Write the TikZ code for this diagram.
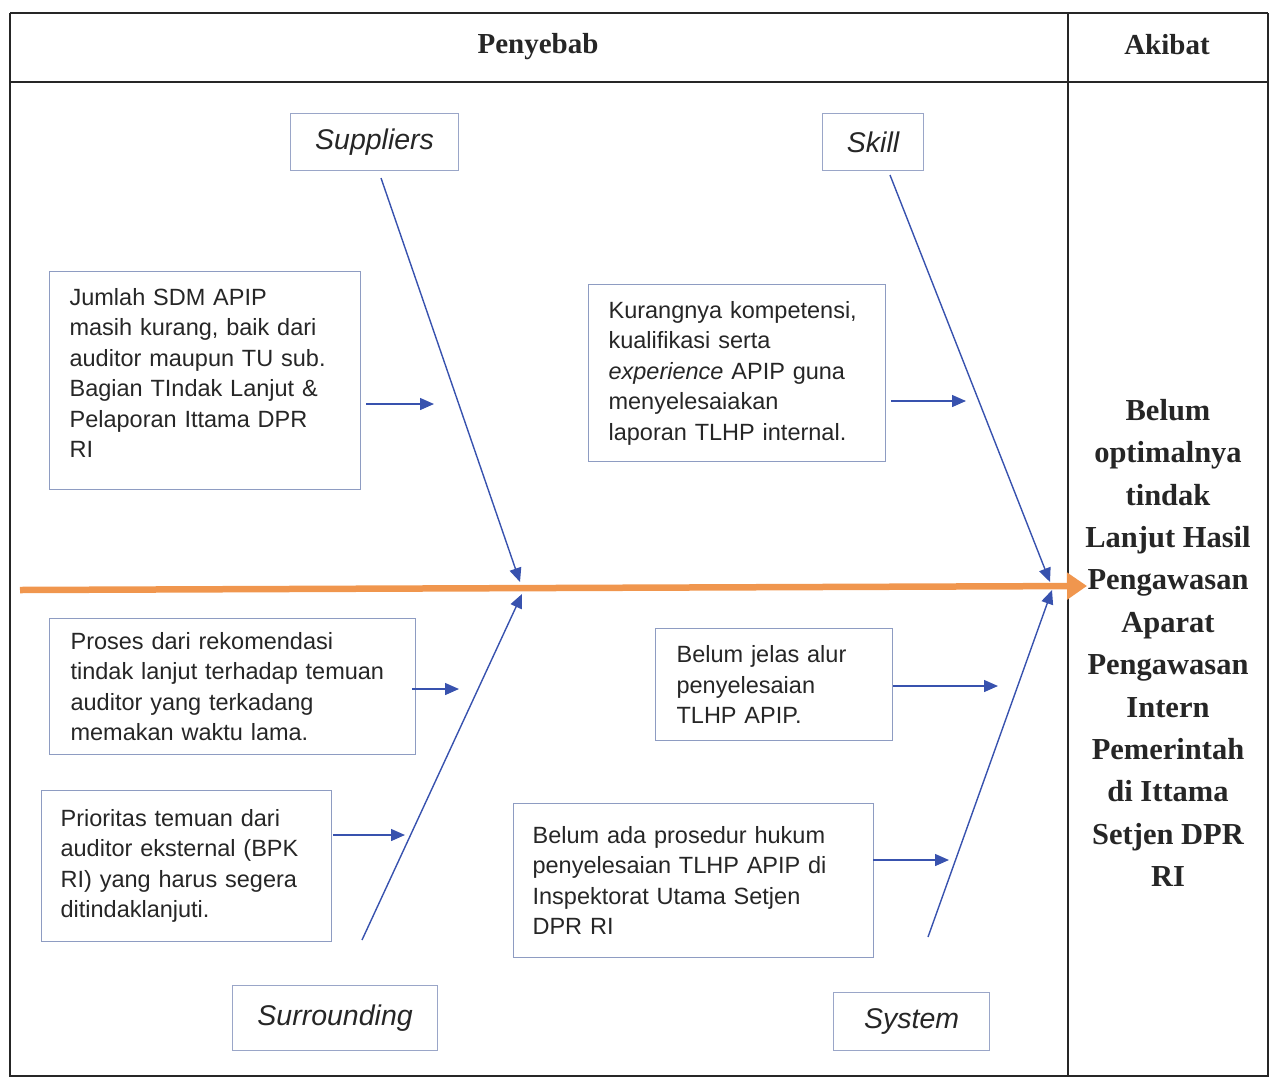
\documentclass[tikz,border=0pt]{standalone}
\usepackage{fontspec}
\setmainfont{Liberation Serif}
\newfontfamily\arialf{Liberation Sans}
\usetikzlibrary{arrows.meta}
\definecolor{boxc}{HTML}{8E9CC2}
\definecolor{labc}{HTML}{9AA6C8}
\definecolor{linec}{HTML}{3852AE}
\definecolor{orangec}{HTML}{F0964E}
\definecolor{txtc}{HTML}{262626}
\tikzset{
  causebox/.style={draw=boxc, line width=1.2pt, anchor=north west, align=left,
    inner xsep=20pt, inner ysep=0pt, text=txtc,
    font=\arialf\fontsize{23.5}{30.5}\selectfont},
  catbox/.style={draw=labc, line width=1.2pt, anchor=north west, inner sep=0pt,
    text=txtc, font=\arialf\itshape\fontsize{28.5}{34}\selectfont},
  spine/.style={draw=linec, line width=1.4pt, -{Triangle[length=14pt,width=12pt]}},
  small/.style={draw=linec, line width=1.4pt, -{Triangle[length=14pt,width=12pt]}},
  frame/.style={line width=1.8pt, draw=black!85},
  head/.style={font=\bfseries\fontsize{29}{34}\selectfont, text=txtc},
}
\begin{document}
\begin{tikzpicture}[x=1pt,y=-1pt]
\useasboundingbox (0,0) rectangle (1278,1077);
% frame
\draw[frame] (10,13) -- (1268,13);
\draw[frame] (10,82) -- (1268,82);
\draw[frame] (10,13) -- (10,1077);
\draw[frame] (1268,13) -- (1268,1077);
\draw[frame] (1068,13) -- (1068,1077);
\draw[frame] (10,1076) -- (1268,1076);
\node[head] (hp) at (538,47) {Penyebab};
\node[head] (ha) at (1167,45) {Akibat};
% effect
\node[font=\bfseries\fontsize{30.5}{42.4}\selectfont, align=center, text=txtc] (eff) at (1168,643)
 {Belum\\optimalnya\\tindak\\Lanjut Hasil\\Pengawasan\\Aparat\\Pengawasan\\Intern\\Pemerintah\\di Ittama\\Setjen DPR\\RI};
% category boxes
\node[catbox, minimum width=168pt, minimum height=57pt] (sup) at (290,113) {Suppliers};
\node[catbox, minimum width=101pt, minimum height=57pt] (ski) at (822,113) {Skill};
\node[catbox, minimum width=205pt, minimum height=65pt] (sur) at (232,985) {Surrounding};
\node[catbox, minimum width=156pt, minimum height=58pt] (sys) at (833,992) {System};
% cause boxes
\node[causebox, text width=271pt, minimum height=218pt] (b1) at (49,271)
 {Jumlah SDM APIP\\masih kurang, baik dari\\auditor maupun TU sub.\\Bagian TIndak Lanjut \&\\Pelaporan Ittama DPR\\RI\rule[-15pt]{0pt}{0pt}};
\node[causebox, text width=257pt, minimum height=177pt] (b2) at (588,284)
 {Kurangnya kompetensi,\\kualifikasi serta\\\textit{experience} APIP guna\\menyelesaiakan\\laporan TLHP internal.};
\node[causebox, inner xsep=21pt, text width=324pt, minimum height=136pt] (b3) at (49,618)
 {Proses dari rekomendasi\\tindak lanjut terhadap temuan\\auditor yang terkadang\\memakan waktu lama.};
\node[causebox, inner xsep=21pt, text width=195pt, minimum height=112pt] (b4) at (655,628)
 {Belum jelas alur\\penyelesaian\\TLHP APIP.};
\node[causebox, inner xsep=19pt, text width=252pt, minimum height=151pt] (b5) at (41,790)
 {Prioritas temuan dari\\auditor eksternal (BPK\\RI) yang harus segera\\ditindaklanjuti.};
\node[causebox, inner xsep=19pt, text width=322pt, minimum height=154pt] (b6) at (513,803)
 {Belum ada prosedur hukum\\penyelesaian TLHP APIP di\\Inspektorat Utama Setjen\\DPR RI};
% coordinates for spines
\coordinate (s1a) at (381,178); \coordinate (s1b) at (520,582);
\coordinate (s2a) at (890,175); \coordinate (s2b) at (1050,582);
\coordinate (s3a) at (362,940); \coordinate (s3b) at (522,594);
\coordinate (s4a) at (928,937); \coordinate (s4b) at (1052,590);
\draw[spine] (s1a) -- (s1b);
\draw[spine] (s2a) -- (s2b);
\draw[spine] (s3a) -- (s3b);
\draw[spine] (s4a) -- (s4b);
% small arrows
\coordinate (a1a) at (366,404); \coordinate (a1b) at (434,404);
\coordinate (a2a) at (891,401); \coordinate (a2b) at (966,401);
\coordinate (a3a) at (412,689); \coordinate (a3b) at (459,689);
\coordinate (a4a) at (893,686); \coordinate (a4b) at (998,686);
\coordinate (a5a) at (333,835); \coordinate (a5b) at (405,835);
\coordinate (a6a) at (873,860); \coordinate (a6b) at (949,860);
\draw[small] (a1a) -- (a1b);
\draw[small] (a2a) -- (a2b);
\draw[small] (a3a) -- (a3b);
\draw[small] (a4a) -- (a4b);
\draw[small] (a5a) -- (a5b);
\draw[small] (a6a) -- (a6b);
% main spine
\coordinate (m1) at (20,590); \coordinate (m2) at (1087,586);
\draw[orangec, line width=6.5pt, -{Triangle[length=20pt,width=26pt]}] (m1) -- (m2);
\end{tikzpicture}
\end{document}
